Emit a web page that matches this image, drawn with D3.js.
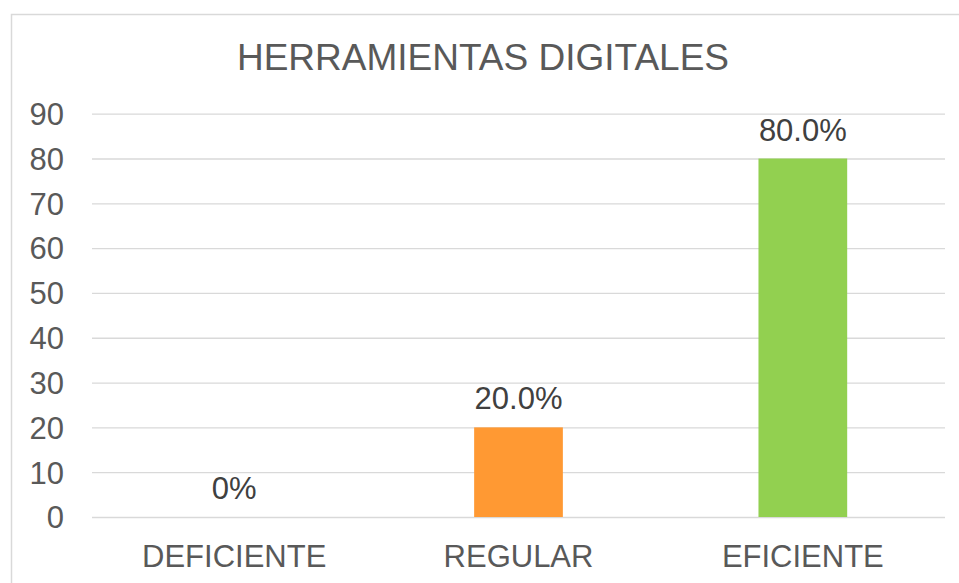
<!DOCTYPE html>
<html>
<head>
<meta charset="utf-8">
<script src="https://cdn.jsdelivr.net/npm/d3@7"></script>
<style>
  html, body { margin: 0; padding: 0; background: #fff; }
  svg { display: block; }
  text { font-family: "Liberation Sans", Arial, sans-serif; }
</style>
</head>
<body>
<svg id="chart" width="959" height="583"></svg>
<script>
const title = "HERRAMIENTAS DIGITALES";
const categories = ["DEFICIENTE", "REGULAR", "EFICIENTE"];
const values = [0, 20, 80];
const valueLabels = ["0%", "20.0%", "80.0%"];
const barColors = ["#4472c4", "#ff9933", "#92d050"];
const yTicks = [0, 10, 20, 30, 40, 50, 60, 70, 80, 90];

const svg = d3.select("#chart");

// chart border
svg.append("rect")
  .attr("x", 11.5).attr("y", 14.5)
  .attr("width", 980).attr("height", 620)
  .attr("fill", "#fff")
  .attr("stroke", "#d9d9d9")
  .attr("stroke-width", 1.5);

const x = d3.scaleBand()
  .domain(categories)
  .range([92, 945])
  .paddingInner(0.688)
  .paddingOuter(0.344);

const y = d3.scaleLinear()
  .domain([0, 90])
  .range([517, 113.7]);

// gridlines
const yAxis = d3.axisLeft(y).tickValues(yTicks).tickSize(-(945 - 92)).tickPadding(28);
const gy = svg.append("g").attr("transform", "translate(92,0)").call(yAxis);
gy.select(".domain").remove();
gy.selectAll(".tick line").attr("stroke", "#d9d9d9").attr("stroke-width", 1.3);
gy.selectAll(".tick text")
  .attr("fill", "#595959")
  .attr("font-size", 31)
  .attr("font-family", "'Liberation Sans', Arial, sans-serif")
  .attr("dy", "0.35em");

// bars
svg.append("g").selectAll("rect")
  .data(categories)
  .join("rect")
  .attr("x", d => x(d))
  .attr("width", x.bandwidth())
  .attr("y", (d, i) => y(values[i]))
  .attr("height", (d, i) => y(0) - y(values[i]))
  .attr("fill", (d, i) => barColors[i]);

// data labels
svg.append("g").selectAll("text")
  .data(categories)
  .join("text")
  .attr("x", d => x(d) + x.bandwidth() / 2)
  .attr("y", (d, i) => y(values[i]) - 18)
  .attr("text-anchor", "middle")
  .attr("fill", "#404040")
  .attr("font-size", 31)
  .text((d, i) => valueLabels[i]);

// x axis labels
const xAxis = d3.axisBottom(x).tickSize(0).tickPadding(0);
const gx = svg.append("g").attr("transform", "translate(0,517)").call(xAxis);
gx.select(".domain").remove();
gx.selectAll(".tick text")
  .attr("fill", "#595959")
  .attr("font-size", 31)
  .attr("font-family", "'Liberation Sans', Arial, sans-serif")
  .attr("dy", null)
  .attr("y", 50);

// title
svg.append("text")
  .attr("x", 483)
  .attr("y", 70)
  .attr("text-anchor", "middle")
  .attr("fill", "#595959")
  .attr("font-size", 37)
  .text(title);
</script>
</body>
</html>
